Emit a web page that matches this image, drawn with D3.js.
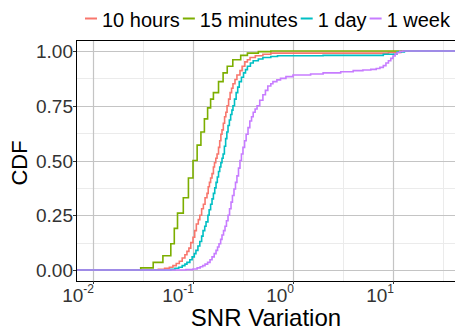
<!DOCTYPE html>
<html>
<head>
<meta charset="utf-8">
<script src="https://cdn.jsdelivr.net/npm/d3@7"></script>
<style>
  body { margin: 0; background: #fff; }
  text { font-family: "Liberation Sans", Arial, sans-serif; }
</style>
</head>
<body>
<div id="chart"></div>
<script>
// Data
//= ================================
var seriesNames = ["10 hours", "15 minutes", "1 day", "1 week"];
var seriesColors = ["#F8766D", "#7CAE00", "#00BFC4", "#C77CFF"];

// SNR variation values and the CDF reached at each one
var hoursX = [0.045, 0.052, 0.058, 0.063, 0.068, 0.073, 0.078, 0.083, 0.087, 0.091, 0.095, 0.100, 0.104, 0.108,
  0.113, 0.117, 0.122, 0.127, 0.132, 0.138, 0.142, 0.146, 0.150, 0.155, 0.160, 0.164, 0.169, 0.174, 0.180,
  0.185, 0.190, 0.195, 0.201, 0.207, 0.213, 0.219, 0.227, 0.235, 0.243, 0.251, 0.263, 0.275, 0.295, 0.310,
  0.330, 0.350, 0.372, 0.420, 0.500, 0.600, 9.0, 12.0];
var hoursY = [0.003, 0.008, 0.013, 0.02, 0.03, 0.04, 0.055, 0.07, 0.085, 0.10, 0.125, 0.15, 0.18, 0.21,
  0.23, 0.25, 0.28, 0.30, 0.33, 0.35, 0.38, 0.40, 0.42, 0.44, 0.47, 0.49, 0.51, 0.53, 0.56,
  0.59, 0.62, 0.64, 0.67, 0.70, 0.72, 0.75, 0.78, 0.81, 0.83, 0.85, 0.87, 0.89, 0.91, 0.93,
  0.95, 0.96, 0.97, 0.978, 0.985, 0.99, 0.993, 1.0];

var minutesX = [0.030, 0.040, 0.050, 0.060, 0.065, 0.070, 0.080, 0.090, 0.100, 0.110, 0.120, 0.130, 0.140, 0.150,
  0.160, 0.180, 0.200, 0.220, 0.250, 0.300, 0.350, 0.450, 0.600];
var minutesY = [0.01, 0.035, 0.065, 0.12, 0.19, 0.26, 0.33, 0.42, 0.50, 0.57, 0.63, 0.69, 0.74, 0.78,
  0.81, 0.86, 0.90, 0.93, 0.96, 0.98, 0.99, 0.997, 1.0];

var dayX = [0.060, 0.066, 0.072, 0.078, 0.083, 0.087, 0.093, 0.098, 0.103, 0.107, 0.112, 0.117, 0.122, 0.126,
  0.131, 0.135, 0.141, 0.145, 0.150, 0.155, 0.160, 0.165, 0.170, 0.175, 0.180, 0.185, 0.190, 0.195, 0.200,
  0.206, 0.212, 0.218, 0.224, 0.231, 0.238, 0.245, 0.251, 0.260, 0.270, 0.280, 0.290, 0.305, 0.320, 0.335,
  0.350, 0.375, 0.400, 0.450, 0.500, 0.600, 0.700, 2.0, 8.0, 11.0, 13.0];
var dayY = [0.003, 0.008, 0.013, 0.02, 0.027, 0.035, 0.047, 0.06, 0.075, 0.09, 0.11, 0.13, 0.155, 0.18,
  0.20, 0.22, 0.25, 0.275, 0.30, 0.325, 0.35, 0.375, 0.40, 0.425, 0.45, 0.47, 0.49, 0.51, 0.53,
  0.565, 0.60, 0.63, 0.66, 0.685, 0.71, 0.73, 0.75, 0.78, 0.81, 0.835, 0.86, 0.88, 0.90, 0.915,
  0.93, 0.945, 0.955, 0.963, 0.97, 0.975, 0.978, 0.98, 0.985, 0.995, 1.0];

var weekX = [0.085, 0.100, 0.110, 0.118, 0.125, 0.132, 0.140, 0.148, 0.155, 0.163, 0.170, 0.176, 0.182, 0.189,
  0.195, 0.202, 0.209, 0.216, 0.224, 0.232, 0.240, 0.248, 0.257, 0.266, 0.275, 0.285, 0.295, 0.305, 0.316,
  0.328, 0.340, 0.355, 0.370, 0.385, 0.400, 0.418, 0.437, 0.465, 0.500, 0.530, 0.560, 0.600, 0.630, 0.690,
  0.750, 0.850, 1.0, 1.5, 2.0, 3.0, 4.0, 5.0, 6.0, 6.8, 7.4, 8.0, 8.5, 9.0, 9.5, 10.0, 10.5, 11.0, 11.7, 12.5];
var weekY = [0.002, 0.005, 0.01, 0.015, 0.02, 0.027, 0.035, 0.047, 0.06, 0.075, 0.09, 0.105, 0.12, 0.14,
  0.16, 0.18, 0.20, 0.225, 0.25, 0.28, 0.31, 0.34, 0.37, 0.40, 0.43, 0.465, 0.50, 0.53, 0.56,
  0.59, 0.62, 0.65, 0.68, 0.70, 0.72, 0.735, 0.75, 0.775, 0.80, 0.82, 0.84, 0.85, 0.86, 0.868,
  0.875, 0.883, 0.89, 0.895, 0.90, 0.905, 0.91, 0.913, 0.916, 0.92, 0.925, 0.933, 0.945, 0.955, 0.966, 0.977, 0.986, 0.993, 0.998, 1.0];

var xTicks = [0.01, 0.1, 1, 10];
var xTickExp = ["-2", "-1", "0", "1"];
var xMinor = [Math.pow(10, -1.5), Math.pow(10, -0.5), Math.pow(10, 0.5), Math.pow(10, 1.5)];
var yTicks = [0, 0.25, 0.5, 0.75, 1];
var yMinor = [0.125, 0.375, 0.625, 0.875];

// Set up chart
//= ================================
var svgWidth = 455;
var svgHeight = 333;

var panel = { left: 76, top: 40, right: 472, bottom: 281 };

var svg = d3.select("#chart")
  .append("svg")
  .attr("width", svgWidth)
  .attr("height", svgHeight);

var xScale = d3.scaleLog()
  .domain([Math.pow(10, -2.17), Math.pow(10, 1.79)])
  .range([panel.left, panel.right]);

var yScale = d3.scaleLinear()
  .domain([-0.05, 1.05])
  .range([panel.bottom, panel.top]);

// panel background
svg.append("rect")
  .attr("x", panel.left)
  .attr("y", panel.top)
  .attr("width", panel.right - panel.left)
  .attr("height", panel.bottom - panel.top)
  .attr("fill", "#fff");

// grid lines
var grid = svg.append("g");
grid.selectAll(".xminor").data(xMinor).enter().append("line")
  .attr("x1", d => Math.round(xScale(d)) + 0.5).attr("x2", d => Math.round(xScale(d)) + 0.5)
  .attr("y1", panel.top).attr("y2", panel.bottom)
  .attr("stroke", "#ebebeb").attr("stroke-width", 1);
grid.selectAll(".yminor").data(yMinor).enter().append("line")
  .attr("x1", panel.left).attr("x2", panel.right)
  .attr("y1", d => Math.round(yScale(d)) + 0.5).attr("y2", d => Math.round(yScale(d)) + 0.5)
  .attr("stroke", "#ebebeb").attr("stroke-width", 1);
grid.selectAll(".xmajor").data(xTicks).enter().append("line")
  .attr("x1", d => Math.round(xScale(d)) + 0.5).attr("x2", d => Math.round(xScale(d)) + 0.5)
  .attr("y1", panel.top).attr("y2", panel.bottom)
  .attr("stroke", "#c4c4c4").attr("stroke-width", 1.2);
grid.selectAll(".ymajor").data(yTicks).enter().append("line")
  .attr("x1", panel.left).attr("x2", panel.right)
  .attr("y1", d => Math.round(yScale(d)) + 0.5).attr("y2", d => Math.round(yScale(d)) + 0.5)
  .attr("stroke", "#c4c4c4").attr("stroke-width", 1.2);

// ECDF step lines, padded out to both panel edges
var allX = [hoursX, minutesX, dayX, weekX];
var allY = [hoursY, minutesY, dayY, weekY];
var xDom = xScale.domain();

var stepLine = d3.line()
  .x(d => xScale(d[0]))
  .y(d => yScale(d[1]))
  .curve(d3.curveStepAfter);

var plotArea = svg.append("g");
seriesNames.forEach(function(name, i) {
  var pts = [[xDom[0], 0]];
  allX[i].forEach(function(v, j) { pts.push([v, allY[i][j]]); });
  pts.push([xDom[1], 1]);
  plotArea.append("path")
    .datum(pts)
    .attr("d", stepLine)
    .attr("fill", "none")
    .attr("stroke", seriesColors[i])
    .attr("stroke-width", 1.6);
});

// panel border
svg.append("rect")
  .attr("x", panel.left + 0.5)
  .attr("y", panel.top + 0.5)
  .attr("width", panel.right - panel.left)
  .attr("height", panel.bottom - panel.top)
  .attr("fill", "none")
  .attr("stroke", "#000")
  .attr("stroke-width", 1);

// y axis ticks and labels
var yAxis = svg.append("g");
yAxis.selectAll("line").data(yTicks).enter().append("line")
  .attr("x1", panel.left - 3).attr("x2", panel.left)
  .attr("y1", d => Math.round(yScale(d)) + 0.5).attr("y2", d => Math.round(yScale(d)) + 0.5)
  .attr("stroke", "#333");
yAxis.selectAll("text").data(yTicks).enter().append("text")
  .attr("x", panel.left - 3)
  .attr("y", d => yScale(d) + 7)
  .attr("text-anchor", "end")
  .attr("font-size", "19px")
  .attr("fill", "#333")
  .text(d => d3.format(".2f")(d));

// x axis ticks and labels
var xAxis = svg.append("g");
xAxis.selectAll("line").data(xTicks).enter().append("line")
  .attr("x1", d => Math.round(xScale(d)) + 0.5).attr("x2", d => Math.round(xScale(d)) + 0.5)
  .attr("y1", panel.bottom).attr("y2", panel.bottom + 3)
  .attr("stroke", "#333");
var xLabels = xAxis.selectAll("text").data(xTicks).enter().append("text")
  .attr("x", d => xScale(d) + 1)
  .attr("y", 302)
  .attr("text-anchor", "end")
  .attr("font-size", "19px")
  .attr("fill", "#333");
xLabels.append("tspan").text("10");
xLabels.append("tspan")
  .attr("dy", -9)
  .attr("font-size", "12px")
  .text((d, i) => xTickExp[i]);

// axis titles
svg.append("text")
  .attr("transform", "translate(27, 163) rotate(-90)")
  .attr("text-anchor", "middle")
  .attr("font-size", "22px")
  .attr("fill", "#000")
  .text("CDF");

svg.append("text")
  .attr("x", 266)
  .attr("y", 326)
  .attr("text-anchor", "middle")
  .attr("font-size", "24px")
  .attr("fill", "#000")
  .text("SNR Variation");

// legend across the top
var legend = svg.append("g");
var lx = 85;
seriesNames.forEach(function(name, i) {
  legend.append("line")
    .attr("x1", lx).attr("x2", lx + 12)
    .attr("y1", 18.5).attr("y2", 18.5)
    .attr("stroke", seriesColors[i])
    .attr("stroke-width", 2);
  var t = legend.append("text")
    .attr("x", lx + 17)
    .attr("y", 27)
    .attr("font-size", "20px")
    .attr("fill", "#000")
    .text(name);
  lx = lx + 17 + t.node().getComputedTextLength() + 3;
});
</script>
</body>
</html>
